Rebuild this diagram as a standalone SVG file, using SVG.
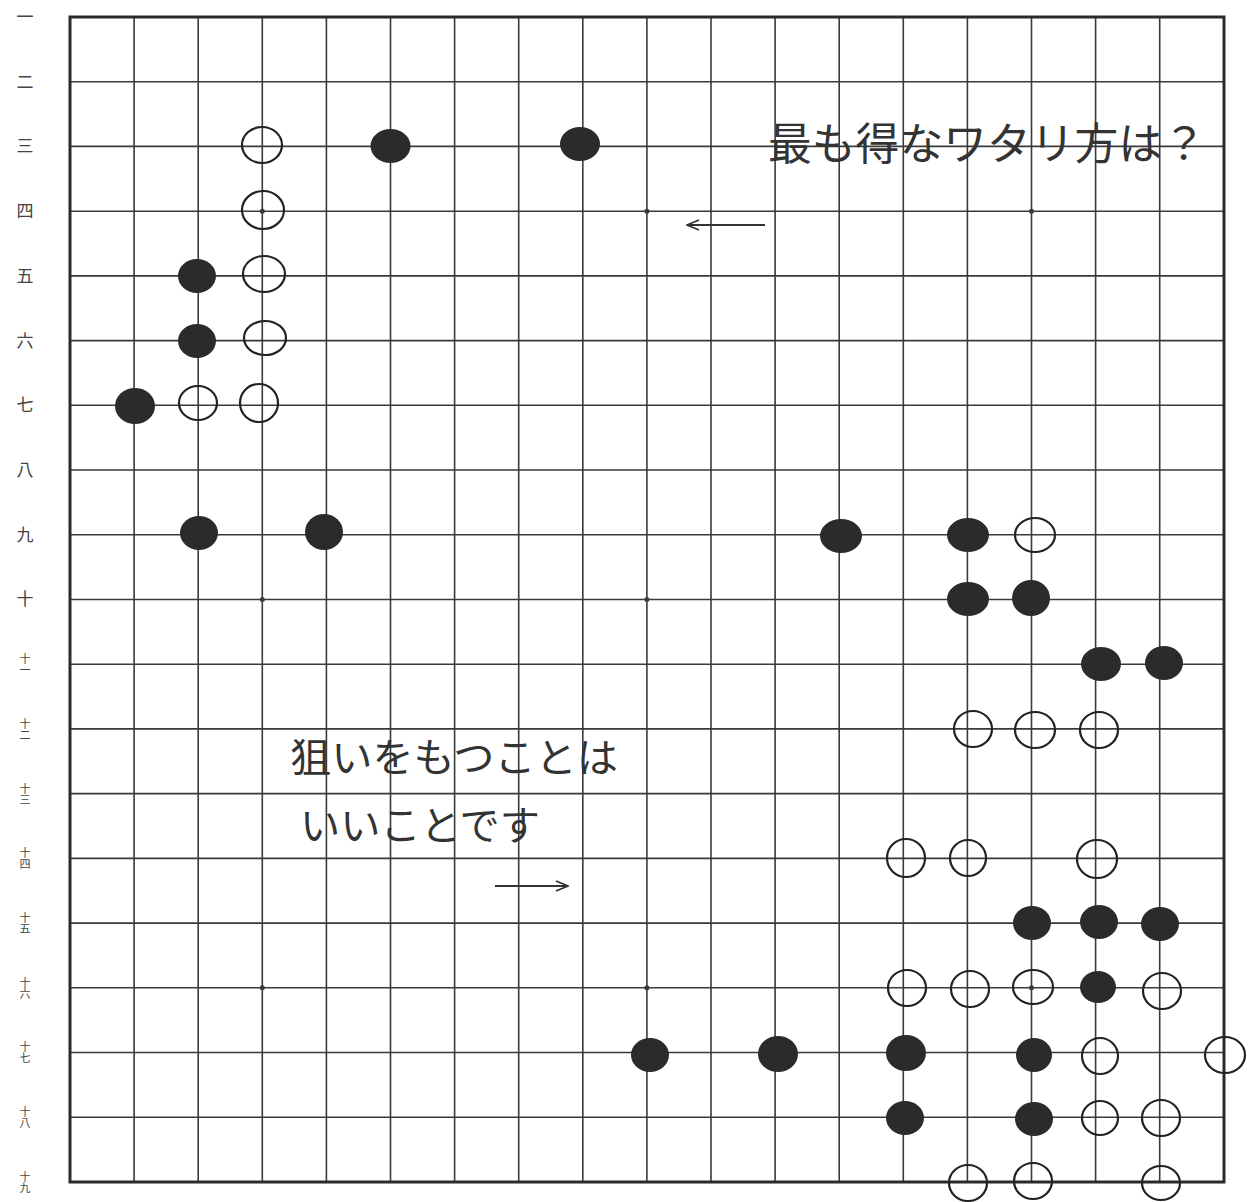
<svg xmlns="http://www.w3.org/2000/svg" width="1254" height="1202" viewBox="0 0 1254 1202">
<style>
.grid{stroke:#3a3a3a;stroke-width:1.6;fill:none}
.border{stroke:#2a2a2a;stroke-width:3;fill:none}
.star{fill:#3a3a3a}
.b{fill:#2b2b2b}
.w{fill:none;stroke:#222;stroke-width:2.2}
.lab{font-family:"Noto Sans CJK JP","Noto Sans CJK SC",sans-serif;font-size:17px;fill:#444;text-anchor:middle}
.lab2{font-family:"Noto Sans CJK JP","Noto Sans CJK SC",sans-serif;font-size:11px;fill:#444;text-anchor:middle;writing-mode:vertical-rl}
.note{font-family:"Noto Sans CJK JP","Noto Sans CJK SC",sans-serif;fill:#333}
.arrow{stroke:#333;stroke-width:2;fill:none}
</style>
<defs>
<marker id="ah" markerUnits="userSpaceOnUse" markerWidth="14" markerHeight="12" refX="13" refY="6" orient="auto">
<path d="M1,1 L13,6 L1,11" fill="none" stroke="#333" stroke-width="1.8"/>
</marker>
</defs>
<rect width="1254" height="1202" fill="#fff"/>
<g id="board">
<path class="grid" d="M134.1 17V1182M198.2 17V1182M262.3 17V1182M326.4 17V1182M390.5 17V1182M454.6 17V1182M518.7 17V1182M582.8 17V1182M646.9 17V1182M711 17V1182M775.1 17V1182M839.2 17V1182M903.3 17V1182M967.4 17V1182M1031.5 17V1182M1095.6 17V1182M1159.7 17V1182"/>
<path class="grid" d="M70 81.7H1224M70 146.4H1224M70 211.2H1224M70 275.9H1224M70 340.6H1224M70 405.3H1224M70 470H1224M70 534.8H1224M70 599.5H1224M70 664.2H1224M70 728.9H1224M70 793.6H1224M70 858.4H1224M70 923.1H1224M70 987.8H1224M70 1052.5H1224M70 1117.2H1224"/>
<rect class="border" x="70" y="17" width="1154" height="1165"/>
<g class="star">
<circle cx="262.3" cy="211.2" r="2.5"/><circle cx="646.9" cy="211.2" r="2.5"/><circle cx="1031.5" cy="211.2" r="2.5"/>
<circle cx="262.3" cy="599.5" r="2.5"/><circle cx="646.9" cy="599.5" r="2.5"/><circle cx="1031.5" cy="599.5" r="2.5"/>
<circle cx="262.3" cy="987.8" r="2.5"/><circle cx="646.9" cy="987.8" r="2.5"/><circle cx="1031.5" cy="987.8" r="2.5"/>
</g>
</g>
<g id="row-labels">
<text class="lab" x="25" y="23">一</text>
<text class="lab" x="25" y="88">二</text>
<text class="lab" x="25" y="152">三</text>
<text class="lab" x="25" y="217">四</text>
<text class="lab" x="25" y="282">五</text>
<text class="lab" x="25" y="347">六</text>
<text class="lab" x="25" y="411">七</text>
<text class="lab" x="25" y="476">八</text>
<text class="lab" x="25" y="541">九</text>
<text class="lab" x="25" y="605">十</text>
<text class="lab2" x="25" y="664">十一</text>
<text class="lab2" x="25" y="729">十二</text>
<text class="lab2" x="25" y="794">十三</text>
<text class="lab2" x="25" y="858">十四</text>
<text class="lab2" x="25" y="923">十五</text>
<text class="lab2" x="25" y="988">十六</text>
<text class="lab2" x="25" y="1052">十七</text>
<text class="lab2" x="25" y="1117">十八</text>
<text class="lab2" x="25" y="1182">十九</text>
</g>
<g id="black-stones" class="b">
<ellipse cx="390.5" cy="146" rx="20" ry="17"/>
<ellipse cx="580" cy="144" rx="20" ry="17"/>
<ellipse cx="197" cy="276" rx="19" ry="17"/>
<ellipse cx="197" cy="341" rx="19" ry="17"/>
<ellipse cx="135" cy="406" rx="20" ry="18"/>
<ellipse cx="199" cy="533" rx="19" ry="17"/>
<ellipse cx="324" cy="532" rx="19" ry="18"/>
<ellipse cx="841" cy="536" rx="21" ry="17"/>
<ellipse cx="968" cy="535" rx="21" ry="17"/>
<ellipse cx="968" cy="599" rx="21" ry="17"/>
<ellipse cx="1031" cy="598" rx="19" ry="18"/>
<ellipse cx="1101" cy="664" rx="20" ry="17"/>
<ellipse cx="1164" cy="663" rx="19" ry="17"/>
<ellipse cx="1032" cy="923" rx="19" ry="17"/>
<ellipse cx="1099" cy="922" rx="19" ry="17"/>
<ellipse cx="1160" cy="924" rx="19" ry="17"/>
<ellipse cx="1098" cy="987" rx="18" ry="16"/>
<ellipse cx="650" cy="1055" rx="19" ry="17"/>
<ellipse cx="778" cy="1054" rx="20" ry="18"/>
<ellipse cx="906" cy="1053" rx="20" ry="18"/>
<ellipse cx="1034" cy="1055" rx="18" ry="17"/>
<ellipse cx="905" cy="1118" rx="19" ry="17"/>
<ellipse cx="1034" cy="1119" rx="19" ry="17"/>
</g>
<g id="white-stones" class="w">
<ellipse cx="262" cy="145" rx="20" ry="18"/>
<ellipse cx="263" cy="210" rx="21" ry="19"/>
<ellipse cx="264" cy="274" rx="21" ry="18"/>
<ellipse cx="265" cy="338" rx="21" ry="17"/>
<ellipse cx="198" cy="403" rx="19" ry="17"/>
<ellipse cx="259" cy="403" rx="19" ry="19"/>
<ellipse cx="1035" cy="535" rx="20" ry="17"/>
<ellipse cx="973" cy="729" rx="19" ry="18"/>
<ellipse cx="1035" cy="730" rx="20" ry="18"/>
<ellipse cx="1099" cy="730" rx="19" ry="18"/>
<ellipse cx="906" cy="858" rx="19" ry="19"/>
<ellipse cx="968" cy="858" rx="18" ry="18"/>
<ellipse cx="1097" cy="859" rx="20" ry="19"/>
<ellipse cx="907" cy="988" rx="19" ry="18"/>
<ellipse cx="970" cy="989" rx="19" ry="18"/>
<ellipse cx="1033" cy="987" rx="20" ry="17"/>
<ellipse cx="1162" cy="991" rx="19" ry="18"/>
<ellipse cx="1100" cy="1056" rx="18" ry="18"/>
<ellipse cx="1225" cy="1055" rx="20" ry="18"/>
<ellipse cx="1100" cy="1118" rx="18" ry="17"/>
<ellipse cx="1161" cy="1118" rx="19" ry="18"/>
<ellipse cx="968" cy="1183" rx="19" ry="18"/>
<ellipse cx="1033" cy="1181" rx="19" ry="18"/>
<ellipse cx="1161" cy="1183" rx="19" ry="17"/>
</g>
<g id="connectors">
<line class="arrow" x1="765" y1="225" x2="687" y2="225" marker-end="url(#ah)"/>
<line class="arrow" x1="495" y1="886" x2="568" y2="886" marker-end="url(#ah)"/>
</g>
<g id="notes">
<text class="note" x="768" y="160" font-size="44" textLength="438" lengthAdjust="spacingAndGlyphs">最も得なワタリ方は？</text>
<text class="note" x="290" y="772" font-size="40" textLength="328" lengthAdjust="spacingAndGlyphs">狙いをもつことは</text>
<text class="note" x="300" y="840" font-size="40" textLength="240" lengthAdjust="spacingAndGlyphs">いいことです</text>
</g>
</svg>
